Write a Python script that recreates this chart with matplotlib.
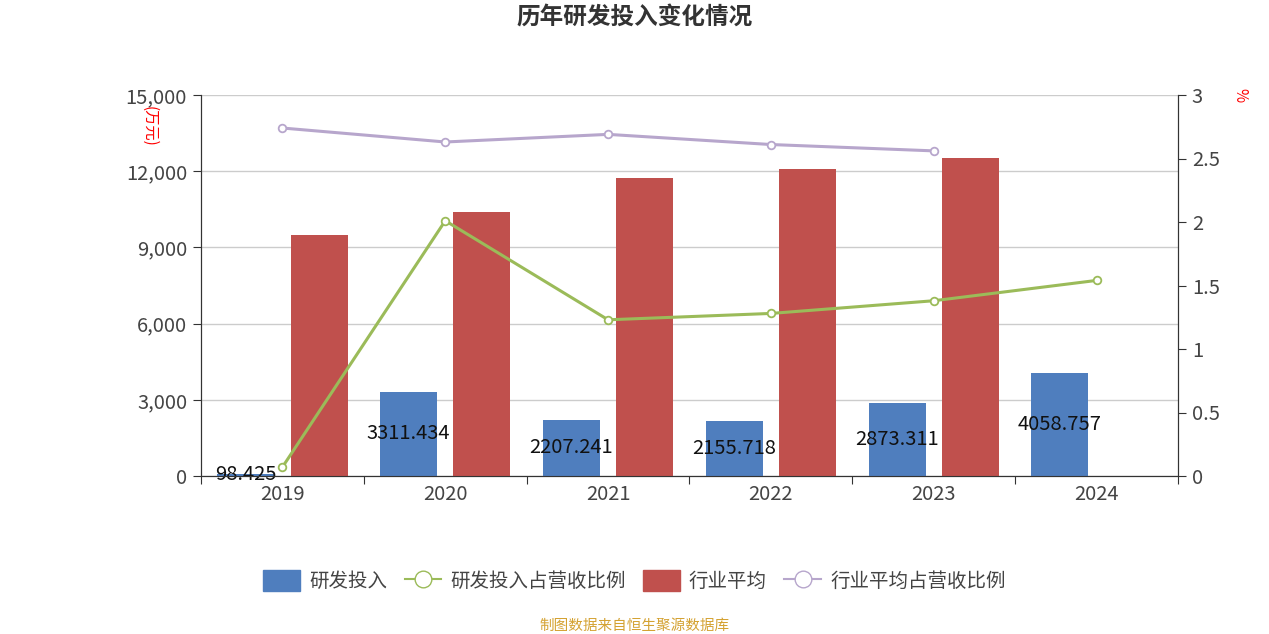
import numpy as np
import matplotlib.pyplot as plt
from matplotlib.lines import Line2D
from matplotlib.patches import FancyBboxPatch

plt.rcParams['font.family'] = ['Noto Sans CJK SC', 'DejaVu Sans']

# data
years = ['2019', '2020', '2021', '2022', '2023', '2024']
rd_spend = [98.425, 3311.434, 2207.241, 2155.718, 2873.311, 4058.757]       # 万元
rd_labels = ['98.425', '3311.434', '2207.241', '2155.718', '2873.311', '4058.757']
rd_ratio = [0.07, 2.01, 1.23, 1.28, 1.38, 1.54]                             # %
industry_avg = [9490, 10400, 11730, 12090, 12520]                          # 万元, 2019-2023
industry_ratio = [2.74, 2.63, 2.69, 2.61, 2.56]                             # %

blue = '#4f7ebe'
red = '#c0504d'
green = '#9bbb59'
purple = '#b7a6cc'
axis_col = '#333333'
tick_col = '#444444'

fig = plt.figure(figsize=(12.69, 6.34), dpi=100)
ax = fig.add_axes([201 / 1269, 1 - 476 / 634, 977 / 1269, 381 / 634])
ax2 = ax.twinx()

x = np.arange(len(years))
w = 0.35
off = 0.225

ax.bar(x - off, rd_spend, width=w, color=blue, zorder=3)
ax.bar(x[:len(industry_avg)] + off, industry_avg, width=w, color=red, zorder=3)
for xi, v, lab in zip(x, rd_spend, rd_labels):
    ax.text(xi - off, v / 2, lab, ha='center', va='center',
            fontsize=14.5, color='#111111', zorder=5)

ax2.plot(x, rd_ratio, color=green, lw=2.2, marker='o', ms=5.5,
         mfc='white', mec=green, mew=1.3, zorder=4)
ax2.plot(x[:len(industry_ratio)], industry_ratio, color=purple, lw=2.2, marker='o', ms=5.5,
         mfc='white', mec=purple, mew=1.3, zorder=4)

ax.set_xlim(-0.5, len(years) - 0.5)
ax.set_ylim(0, 15000)
ax2.set_ylim(0, 3)
ax.set_yticks(np.arange(0, 15001, 3000))
ax.set_yticklabels([f'{v:,}' for v in range(0, 15001, 3000)])
ax2.set_yticks([0, 0.5, 1, 1.5, 2, 2.5, 3])
ax2.set_yticklabels(['0', '0.5', '1', '1.5', '2', '2.5', '3'])

ax.set_xticks(np.arange(-0.5, len(years), 1))
ax.set_xticklabels([])
ax.set_xticks(x, minor=True)
ax.set_xticklabels(years, minor=True)
ax.tick_params(axis='x', which='minor', length=0, labelsize=14.5, labelcolor=tick_col, pad=6)
ax.tick_params(axis='x', which='major', length=6, color=axis_col)
ax.tick_params(axis='y', length=6, labelsize=14.5, labelcolor=tick_col, color=axis_col, pad=4)
ax2.tick_params(axis='y', length=6, labelsize=14.5, labelcolor=tick_col, color=axis_col, pad=4)

ax.grid(axis='y', color='#cccccc', lw=1, zorder=0)
for a in (ax, ax2):
    a.spines['top'].set_visible(False)
    for s in ('left', 'right', 'bottom'):
        a.spines[s].set_color(axis_col)

ax.text(-0.053, 0.97, '(万元)', transform=ax.transAxes, rotation=-90,
        color='red', fontsize=11, ha='center', va='top')
ax2.text(1.063, 1.0, '%', transform=ax2.transAxes, rotation=-90,
         color='red', fontsize=11, ha='center', va='center')

fig.text(0.5, 1 - 18 / 634, '历年研发投入变化情况', ha='center', va='center',
         fontsize=17, fontweight='bold', color='#333333')

handles = [
    FancyBboxPatch((0, 0), 1, 1, boxstyle='round,pad=0.1', color=blue),
    Line2D([], [], color=green, lw=1.5, marker='o', ms=12, mfc='white', mec=green),
    FancyBboxPatch((0, 0), 1, 1, boxstyle='round,pad=0.1', color=red),
    Line2D([], [], color=purple, lw=1.5, marker='o', ms=12, mfc='white', mec=purple),
]
labels = ['研发投入', '研发投入占营收比例', '行业平均', '行业平均占营收比例']
fig.legend(handles, labels, loc='center', bbox_to_anchor=(0.5, 1 - 581 / 634), ncol=4,
           frameon=False, fontsize=14, handlelength=1.9, handleheight=1.3,
           columnspacing=0.9, handletextpad=0.45, labelcolor=tick_col)

fig.text(0.5, 1 - 626 / 634, '制图数据来自恒生聚源数据库', ha='center', va='center',
         fontsize=10.5, color='#d4a232')

fig.savefig('out.png', dpi=100)
